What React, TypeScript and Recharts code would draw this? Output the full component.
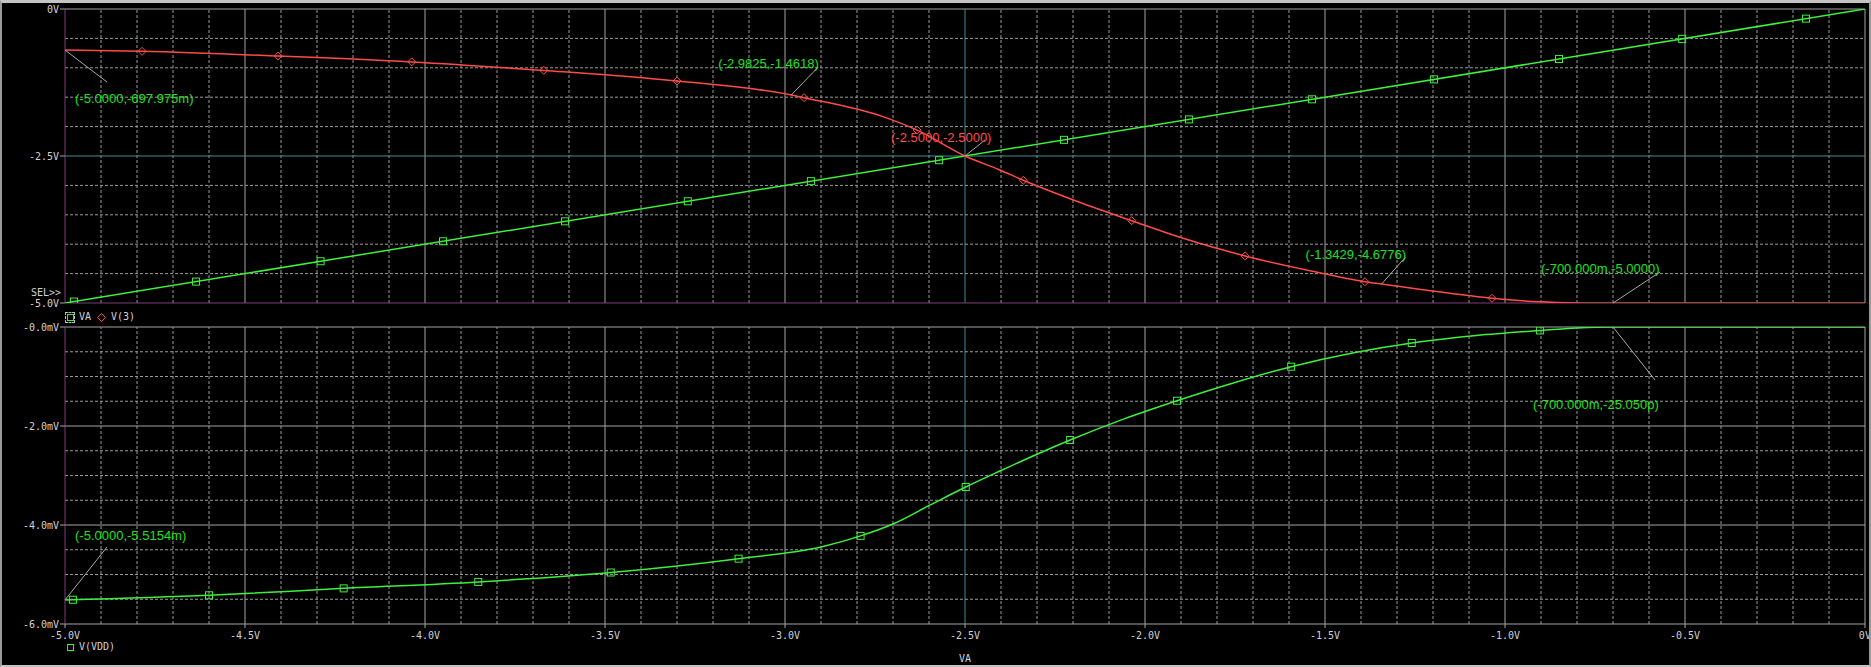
import React from "react";
import {
  ComposedChart,
  Line,
  Scatter,
  XAxis,
  YAxis,
  ReferenceLine,
  ReferenceDot,
} from "recharts";

// ---- data ----
const vaX = [-5, 0];
const vaY = [-5, 0];
const vaMarkX = [-4.975, -4.636, -4.29, -3.95, -3.611, -3.27, -2.928, -2.572, -2.225, -1.878, -1.536, -1.197, -0.85, -0.508, -0.164];

const v3X = [-5, -4.786, -4.408, -4.037, -3.67, -3.375, -3.3, -2.9825, -2.947, -2.728, -2.633, -2.5, -2.403, -2.338, -2.199, -2.037, -1.894, -1.722, -1.498, -1.389, -1.3429, -1.153, -1.036, -0.903, -0.79];
const v3Y = [-0.698, -0.72, -0.8, -0.9, -1.044, -1.18, -1.224, -1.4618, -1.508, -1.83, -2.06, -2.5, -2.738, -2.913, -3.248, -3.6, -3.9, -4.2, -4.507, -4.638, -4.6776, -4.835, -4.92, -4.98, -5.0];
const v3FlatX = [-0.79, 0];
const v3FlatY = [-5, -5];
const v3MarkX = [-4.786, -4.408, -4.037, -3.67, -3.3, -2.947, -2.633, -2.338, -2.037, -1.722, -1.389, -1.036];
const v3MarkY = [-0.72, -0.8, -0.9, -1.044, -1.224, -1.508, -2.06, -2.913, -3.6, -4.2, -4.638, -4.92];

// V(VDD) in mV
const vddX = [-5, -4.6, -4.226, -3.852, -3.484, -3.129, -2.897, -2.79, -2.697, -2.598, -2.498, -2.4, -2.3, -2.208, -2.06, -1.911, -1.75, -1.594, -1.42, -1.259, -1.08, -0.903, -0.8, -0.7, 0];
const vddY = [-5.5154, -5.42, -5.28, -5.15, -4.96, -4.68, -4.44, -4.22, -3.97, -3.6, -3.232, -2.9, -2.57, -2.283, -1.861, -1.489, -1.12, -0.802, -0.52, -0.323, -0.17, -0.07, -0.02, 0, 0];
const vddMarkX = [-4.978, -4.6, -4.226, -3.852, -3.484, -3.129, -2.79, -2.498, -2.208, -1.911, -1.594, -1.259, -0.903];
const vddMarkY = [-5.51, -5.42, -5.28, -5.15, -4.96, -4.68, -4.22, -3.232, -2.283, -1.489, -0.802, -0.323, -0.07];

// ---- ticks ----
const xTicks = [-5, -4.5, -4, -3.5, -3, -2.5, -2, -1.5, -1, -0.5, 0];
const xTickLabels = ["-5.0V", "-4.5V", "-4.0V", "-3.5V", "-3.0V", "-2.5V", "-2.0V", "-1.5V", "-1.0V", "-0.5V", "0V"];
const topTicks = [0, -2.5, -5];
const topTickLabels = ["0V", "-2.5V", "-5.0V"];
const botTicks = [0, -2, -4, -6];
const botTickLabels = ["-0.0mV", "-2.0mV", "-4.0mV", "-6.0mV"];

// cursor readouts
const readouts = [
  { plot: "top", x: -5, y: -0.698, text: "(-5.0000,-697.975m)", red: false },
  { plot: "top", x: -2.9825, y: -1.4618, text: "(-2.9825,-1.4618)", red: false },
  { plot: "top", x: -2.5, y: -2.5, text: "(-2.5000,-2.5000)", red: true },
  { plot: "top", x: -1.3429, y: -4.6776, text: "(-1.3429,-4.6776)", red: false },
  { plot: "top", x: -0.7, y: -5, text: "(-700.000m,-5.0000)", red: false },
  { plot: "bot", x: -0.7, y: 0, text: "(-700.000m,-25.050p)", red: false },
  { plot: "bot", x: -5, y: -5.5154, text: "(-5.0000,-5.5154m)", red: false },
];
// leader end and text offsets, px
const readoutLead = [[42, 32], [27, -28], [20, -16], [24, -27], [47, -31], [42, 53], [42, -53]];
const readoutText = [[10, 48], [-73, -32], [-74, -19], [-76, -30], [-72, -35], [-80, 77], [10, -65]];

const zip = (xs: number[], ys: number[]) => xs.map((x, i) => ({ x, y: ys[i] }));

const r1 = (v: number) => Math.round(v * 10) / 10;
const xMinor = Array.from({ length: 49 }, (_, i) => r1(-4.9 + i * 0.1)).filter(
  (v) => Math.abs(v * 2 - Math.round(v * 2)) > 1e-6
);
const xMajor = [-4.5, -4, -3.5, -3, -2, -1.5, -1, -0.5];
const topMinor = [-0.5, -1, -1.5, -2, -3, -3.5, -4, -4.5];
const botMinor = [-0.5, -1, -1.5, -2.5, -3, -3.5, -4.5, -5, -5.5];
const botMajor = [-2, -4];

const MONO = "'DejaVu Sans Mono', monospace";
const SANS = "'Liberation Sans', Arial, sans-serif";
const GREEN = "#3cf03c";
const RED = "#ff4a4a";
const DASH = "#9a9a9a";
const SOLID = "#a4a4a4";
const TEAL = "#3e8e8e";
const PURPLE = "#7a3d7a";
const LABEL = "#d2d2d2";

const square = (p: any) => (
  <rect x={p.cx - 3.5} y={p.cy - 3.5} width={7} height={7} fill="none" stroke={GREEN} strokeWidth={1} />
);
const diamond = (p: any) => (
  <path
    d={`M${p.cx},${p.cy - 4}L${p.cx + 4},${p.cy}L${p.cx},${p.cy + 4}L${p.cx - 4},${p.cy}Z`}
    fill="none"
    stroke={RED}
    strokeWidth={1}
  />
);

function readoutShape(i: number) {
  const r = readouts[i];
  const [lx, ly] = readoutLead[i];
  const [tx, ty] = readoutText[i];
  return (p: any) => (
    <g>
      <line x1={p.cx} y1={p.cy} x2={p.cx + lx} y2={p.cy + ly} stroke="#a8a8a8" strokeWidth={1} />
      <text
        x={p.cx + tx}
        y={p.cy + ty}
        dy="0.36em"
        fill={r.red ? RED : "#1fe01f"}
        fontFamily={SANS}
        fontSize={13}
      >
        {r.text}
      </text>
    </g>
  );
}

function gridX(cursorColor: string) {
  return [
    ...xMinor.map((v) => (
      <ReferenceLine key={"xm" + v} x={v} stroke={DASH} strokeDasharray="3 2" />
    )),
    ...xMajor.map((v) => <ReferenceLine key={"xM" + v} x={v} stroke={SOLID} />),
    <ReferenceLine key="xc" x={-2.5} stroke={cursorColor} />,
    <ReferenceLine key="xr" x={0} stroke={SOLID} />,
  ];
}

const tickStyle = { fill: LABEL, fontSize: 10, fontFamily: MONO };

export default function App() {
  return (
    <div style={{ position: "relative", width: 1871, height: 667, background: "#000", overflow: "hidden" }}>
      <style>{"body{margin:0}"}</style>

      {/* upper plot: VA and V(3) */}
      <div style={{ position: "absolute", left: 0, top: 0 }}>
        <ComposedChart width={1871} height={310} margin={{ top: 9, right: 6, bottom: 7, left: 0 }}>
          <XAxis type="number" dataKey="x" domain={[-5, 0]} hide allowDataOverflow />
          <YAxis
            type="number"
            dataKey="y"
            domain={[-5, 0]}
            ticks={topTicks}
            tickFormatter={(v: number) => topTickLabels[topTicks.indexOf(v)]}
            width={65}
            tick={tickStyle}
            tickSize={5}
            tickMargin={1}
            axisLine={{ stroke: PURPLE }}
            tickLine={{ stroke: SOLID }}
            allowDataOverflow
          />
          {gridX(TEAL)}
          {topMinor.map((v) => (
            <ReferenceLine key={"ym" + v} y={v} stroke={DASH} strokeDasharray="3 2" />
          ))}
          <ReferenceLine y={-2.5} stroke={TEAL} />
          <ReferenceLine y={0} stroke={SOLID} />
          <ReferenceLine y={-5} stroke={PURPLE} />
          <Line data={zip(vaX, vaY)} dataKey="y" type="linear" stroke={GREEN} strokeWidth={1.5} dot={false} isAnimationActive={false} />
          <Line data={zip(v3X, v3Y)} dataKey="y" type="monotone" stroke={RED} strokeWidth={1.5} dot={false} isAnimationActive={false} />
          <Line data={zip(v3FlatX, v3FlatY)} dataKey="y" type="linear" stroke="#b5622a" strokeWidth={1.5} dot={false} isAnimationActive={false} />
          <Scatter data={zip(vaMarkX, vaMarkX)} dataKey="y" shape={square} isAnimationActive={false} />
          <Scatter data={zip(v3MarkX, v3MarkY)} dataKey="y" shape={diamond} isAnimationActive={false} />
          {readouts.map((r, i) =>
            r.plot === "top" ? (
              <ReferenceDot key={"ro" + i} x={r.x} y={r.y} r={0} shape={readoutShape(i)} />
            ) : null
          )}
        </ComposedChart>
      </div>

      {/* lower plot: V(VDD) */}
      <div style={{ position: "absolute", left: 0, top: 310 }}>
        <ComposedChart width={1871} height={357} margin={{ top: 17, right: 6, bottom: 0, left: 0 }}>
          <XAxis
            type="number"
            dataKey="x"
            domain={[-5, 0]}
            ticks={xTicks}
            tickFormatter={(v: number) => xTickLabels[xTicks.indexOf(v)]}
            height={43}
            tick={tickStyle}
            tickSize={4}
            tickMargin={4}
            axisLine={{ stroke: SOLID }}
            tickLine={{ stroke: SOLID }}
            allowDataOverflow
          />
          <YAxis
            type="number"
            dataKey="y"
            domain={[-6, 0]}
            ticks={botTicks}
            tickFormatter={(v: number) => botTickLabels[botTicks.indexOf(v)]}
            width={65}
            tick={tickStyle}
            tickSize={5}
            tickMargin={1}
            axisLine={{ stroke: PURPLE }}
            tickLine={{ stroke: SOLID }}
            allowDataOverflow
          />
          {gridX(TEAL)}
          {botMinor.map((v) => (
            <ReferenceLine key={"bm" + v} y={v} stroke={DASH} strokeDasharray="3 2" />
          ))}
          {botMajor.map((v) => (
            <ReferenceLine key={"bM" + v} y={v} stroke={SOLID} />
          ))}
          <ReferenceLine y={0} stroke={SOLID} />
          <Line data={zip(vddX, vddY)} dataKey="y" type="monotone" stroke={GREEN} strokeWidth={1.5} dot={false} isAnimationActive={false} />
          <Scatter data={zip(vddMarkX, vddMarkY)} dataKey="y" shape={square} isAnimationActive={false} />
          {readouts.map((r, i) =>
            r.plot === "bot" ? (
              <ReferenceDot key={"ro" + i} x={r.x} y={r.y} r={0} shape={readoutShape(i)} />
            ) : null
          )}
        </ComposedChart>
      </div>

      {/* legends and labels */}
      <div style={{ position: "absolute", left: 31, top: 287, color: LABEL, font: `10px ${MONO}` }}>SEL&gt;&gt;</div>
      <div style={{ position: "absolute", left: 65, top: 312, width: 8, height: 9, border: "1px dashed #bdbdbd" }}>
        <div style={{ position: "absolute", left: 1, top: 1, width: 5, height: 5, border: `1px solid ${GREEN}` }} />
      </div>
      <div style={{ position: "absolute", left: 79, top: 311, color: LABEL, font: `10px ${MONO}` }}>VA</div>
      <svg style={{ position: "absolute", left: 97, top: 313 }} width={9} height={9}>
        <path d="M4.5,0.5L8.5,4.5L4.5,8.5L0.5,4.5Z" fill="none" stroke={RED} strokeWidth={1} />
      </svg>
      <div style={{ position: "absolute", left: 111, top: 311, color: LABEL, font: `10px ${MONO}` }}>V(3)</div>
      <div style={{ position: "absolute", left: 67, top: 644, width: 5, height: 5, border: `1px solid ${GREEN}` }} />
      <div style={{ position: "absolute", left: 79, top: 641, color: LABEL, font: `10px ${MONO}` }}>V(VDD)</div>
      <div style={{ position: "absolute", left: 959, top: 653, color: LABEL, font: `10px ${MONO}` }}>VA</div>

      {/* window frame */}
      <div
        style={{
          position: "absolute",
          inset: 0,
          boxSizing: "border-box",
          borderTop: "3px solid #c4c4c4",
          borderLeft: "2px solid #9a9a9a",
          borderBottom: "2px solid #c4c4c4",
          borderRight: "2px solid #9a9a9a",
          pointerEvents: "none",
        }}
      />
    </div>
  );
}
